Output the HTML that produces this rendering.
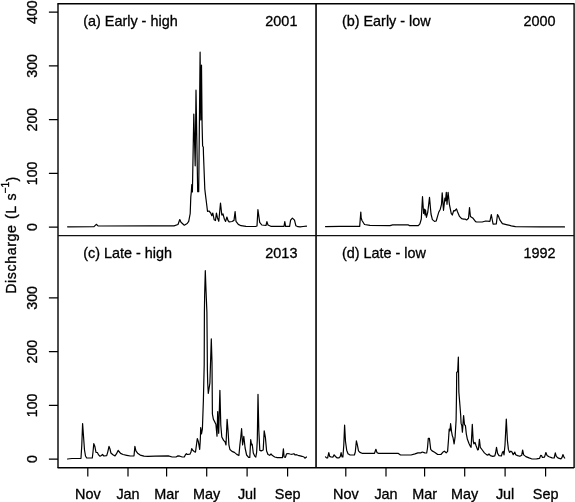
<!DOCTYPE html>
<html><head><meta charset="utf-8"><title>Discharge</title>
<style>
html,body{margin:0;padding:0;background:#fff;}
svg{display:block}
text{font-family:"Liberation Sans",Arial,sans-serif;font-size:14.2px;fill:#000;stroke:#000;stroke-width:0.3px}
</style></head><body>
<svg width="575" height="502" viewBox="0 0 575 502">
<rect width="575" height="502" fill="#fff"/>
<g fill="none" stroke="#000" stroke-width="1.2" stroke-linejoin="round" stroke-linecap="round">
<polyline points="67.6,226.8 94,226.6 96.3,224.3 98,225.9 100,226.0 150,225.9 174,225.9 178,224.5 179.8,219.5 181,222.3 184.3,225.2 187.2,223.5 188.7,221.3 190.2,213.5 190.8,197 191.3,192 191.8,184.5 192.4,192 193.8,114.1 195.2,165.8 196,90.2 197.7,191.7 198.7,191.7 200.1,52.2 200.8,120 201.5,65 202.1,125 202.6,146 203.3,147 203.5,155 204.8,189 205.3,193.4 206,199 207.5,211.3 209,211 210.8,213.2 211.8,215.7 212.8,213 214.2,219.8 215.5,220.5 216.4,213 217.5,218 218.8,221.3 220.5,203 221.8,215 223,214 224.4,219.2 225.6,221.4 226.9,217 228,220.5 229.3,222 232,221.5 234,220.4 235.1,211.6 236,221.3 238.3,224.4 241,225.7 246,226.4 255.5,226.5 257,226 257.9,209.7 259.7,222.3 261.8,225 266,225.5 266.9,221.6 268,225 270.8,226.3 284,226.3 284.8,221.6 285.6,226.3 289.6,226.3 290.6,220.2 292.4,218.1 294.5,220.2 295.9,225.8 298,226.7 300,226.9 303,226.5 306.5,226.2"/>
<polyline points="325.5,226.6 340,226.4 359.7,226.4 360.8,212 361.2,218 362,220.5 364.5,224.5 370,225.4 390,225.6 392.7,224.8 408,224.8 409.5,225.6 418.3,225.6 419.9,223.8 421.3,219 422.5,196.7 423.6,213.4 424.4,209.2 425,215 425.5,209.9 426.4,217.3 427.8,212 429.5,197.4 431,214 432.4,219.6 434.5,221.4 436.2,221 437.6,216.2 438.7,212.3 440.3,209.2 441.5,204.3 442.2,192.9 443.5,210.3 444.9,198 445.5,201 446.3,192.3 447,204.3 448.1,192.3 449.4,204.3 451.2,213.4 452.3,215 453.7,210.6 454.7,211 456.5,208.9 457.5,211.7 459.5,216.4 461.6,218.7 463.7,219.2 465,219 466.6,220 468.5,218.3 469.5,207.5 470.4,216.4 472.7,217.9 475.6,221.6 476.7,222 482.2,222 485.7,221 489.9,221.4 491.3,214.5 492.3,220 493.1,224.1 496.3,223.9 497.5,214.5 498.5,216.2 500,220.2 502.4,223.7 507.3,224.8 511.3,225.8 515.5,226.7 540,226.8 564.5,226.9"/>
<polyline points="67.5,459 72,458.5 81,458.3 81.8,445 82.6,423.5 83.6,437.5 84.5,450 85.5,456 86.7,458 92.3,458 93,452 93.8,443.6 94.8,446.2 96,452.4 97.4,452.5 98.6,454.9 100,456.2 101.5,455.5 102.5,454.5 103.9,456 106.7,455.6 107.8,451.8 109,446.4 110,449 110.9,453 112.9,454.8 115,455.9 116.4,453.9 118.1,450.4 119,451.5 120.6,453.4 123.1,454.5 126.8,455.3 130.3,456 134,455.8 134.9,446.3 135.9,450.8 137.6,453.2 140.2,455.1 144,456.2 148,456.4 155,456.2 168.3,455.9 172.2,457 176,457 178,455.9 180,456.2 182.2,457 184.3,457 185.3,455 186.4,453.7 187.5,454.5 189.9,454.2 191,452 191.7,448.6 193,450.6 194.5,451.7 195.5,452.1 196.3,446 197.3,438.5 198.3,441.4 199.7,449.3 200.3,440 200.7,427.5 201.5,434 202.4,428.8 203.4,400 204.2,365 204.4,312 204.65,295 205.3,270.7 206.0,290 206.9,312 207.2,345 207.4,370 207.7,383 208.3,393.5 209.9,383 211.3,338.9 212,362 212.4,414 213.4,419.3 215,422.4 215.9,424.3 217,436.2 217.7,411.5 218.7,433.3 219.9,390.3 220.8,425 221.8,437 223.6,440.4 225,441.7 226,445 227.1,419.3 228,430 228.9,444.8 229.9,449.5 232,451.4 234.4,452.4 236.8,454.4 238.9,455.5 239.9,444.8 240.7,438 241.6,428.7 242.6,445 243.8,436.4 245.1,448 246.6,455 248.6,457.3 249.8,457.4 250.7,439.7 251.6,445 252.2,444.2 253.3,453 254.7,456.1 255.8,457 256.6,452.7 257.3,440 258,394.3 258.8,430 259.8,450.4 261.2,450.9 263.2,450 264.2,430.9 265.4,437.4 266.6,451 268,454.5 269.7,455.3 271,454 272.5,455.6 274.7,457 277.3,457.6 282.4,457.7 283.4,448.9 284.1,457 285.4,457.3 286.6,453.8 288,453.5 290,454 292,454.3 293.9,453.7 295.1,455 296.5,454.7 298,455.3 300.2,455.8 302,456.3 304,457 304.9,458.2 306.5,457"/>
<polyline points="325.5,456.9 326.5,457.9 327.6,458 328.8,452.6 329.7,456.4 331,457 333,457.1 334.1,454.8 335.5,456.5 336.9,457.8 339,457.8 340.3,456.5 341.1,452.6 342,456.8 342.9,457 343.8,445 344.6,425.1 345.5,441.5 346.7,450.2 348,453.8 350.1,455 354.4,455 355.3,452 356.4,440.8 357.4,445.2 358.5,450.9 359.9,452.4 362,453.3 374.5,453.3 375.9,449.3 377,452.6 378.3,453.3 398,453.3 400.5,455 411,455 415,453.9 417.9,452.9 421,452.8 422.3,452 424.8,452.9 426.7,453 427.5,448 428.3,438.3 429.4,438.4 430.7,449.3 432.1,450.9 434.6,452.2 437.7,454.5 440.9,454.5 443,452.1 444.4,451.2 446.2,452.8 447.6,451.4 448.5,439.7 449.2,429 450,431 450.6,423.7 451.6,431.9 452.3,435.6 453,437.5 454.1,443.9 455.1,436.9 456.1,420 456.5,395 456.7,372.5 457.7,371.5 458.35,357 458.6,375 458.85,392 459.9,405 460.7,415.5 461.1,423.4 461.8,425.5 462.4,432.2 463.6,415.6 464.5,424.8 465.4,425.4 466.3,433.8 467.4,439.3 469.1,443.7 470.3,446.2 471.1,447.3 472.3,424.4 473.2,441 473.9,443.8 475,442.4 476,445.5 477.7,450 478.4,449.5 479.4,439.4 480.3,447.3 482.3,450 484.4,452.9 486.5,454.6 487.9,455.2 489,454 490.4,455.6 492.8,456.3 494.8,455.9 495.6,453 496.5,447.4 497.6,453.4 499,455.6 501.4,456 502.5,452.1 503.3,451.4 504,454.9 505,445 506.3,419 507.4,440.5 508.4,449.4 509.5,452.4 510.9,451.2 512,452 513.2,454.7 514.8,452.1 515.7,454.7 517.6,455.6 519.9,456.3 521.7,455.3 522.6,450 523.7,454.9 525.9,456.6 529,457.9 531.5,458.8 534,459 536.6,458.8 539.6,458.3 540.7,455.4 541.5,455.5 542.4,457.4 544.5,457.1 545.9,452.5 547,455.4 549.1,456.8 552.1,457.9 554.2,458 555.3,452.9 556.3,456.4 558.4,458.2 560.9,458.8 562,457.5 562.9,454.6 564,457.1 564.7,458"/>
</g>
<g fill="none" stroke="#111" stroke-linecap="butt">
<path stroke-width="1.5" d="M58.0,3.3000000000000003V468.09999999999997"/>
<path stroke-width="1.7" d="M316.05,3.7V467.7"/>
<path stroke-width="1.75" stroke="#333" d="M574.125,3.3000000000000003V468.09999999999997"/>
<path stroke="#000" stroke-width="1.4" d="M57.6,3.7H574.1M57.6,467.7H574.1"/>
<path stroke="#111" stroke-width="1.3" d="M58.0,235.7H574.1"/>
</g>
<g fill="none" stroke="#000" stroke-width="1.2" stroke-linecap="butt">
<path d="M48.9,227.15H58.0M48.9,173.40H58.0M48.9,119.65H58.0M48.9,65.90H58.0M48.9,12.15H58.0M48.9,459.15H58.0M48.9,405.40H58.0M48.9,351.65H58.0M48.9,297.90H58.0M87.8,467.7V476.5M345.8,467.7V476.5M128.0,467.7V476.5M386.0,467.7V476.5M166.6,467.7V476.5M424.6,467.7V476.5M206.7,467.7V476.5M464.7,467.7V476.5M247.1,467.7V476.5M505.1,467.7V476.5M287.6,467.7V476.5M545.6,467.7V476.5"/>
</g>
<text transform="translate(37.4,227.15) rotate(-90) scale(1,1.07)" text-anchor="middle">0</text>
<text transform="translate(37.4,173.4) rotate(-90) scale(1,1.07)" text-anchor="middle">100</text>
<text transform="translate(37.4,119.65) rotate(-90) scale(1,1.07)" text-anchor="middle">200</text>
<text transform="translate(37.4,65.9) rotate(-90) scale(1,1.07)" text-anchor="middle">300</text>
<text transform="translate(37.4,12.15) rotate(-90) scale(1,1.07)" text-anchor="middle">400</text>
<text transform="translate(37.4,459.15) rotate(-90) scale(1,1.07)" text-anchor="middle">0</text>
<text transform="translate(37.4,405.4) rotate(-90) scale(1,1.07)" text-anchor="middle">100</text>
<text transform="translate(37.4,351.65) rotate(-90) scale(1,1.07)" text-anchor="middle">200</text>
<text transform="translate(37.4,297.9) rotate(-90) scale(1,1.07)" text-anchor="middle">300</text>
<text transform="translate(87.8,498.8) scale(1.015,1)" text-anchor="middle">Nov</text>
<text transform="translate(345.8,498.8) scale(1.015,1)" text-anchor="middle">Nov</text>
<text transform="translate(128.0,498.8) scale(1.015,1)" text-anchor="middle">Jan</text>
<text transform="translate(386.0,498.8) scale(1.015,1)" text-anchor="middle">Jan</text>
<text transform="translate(166.6,498.8) scale(1.015,1)" text-anchor="middle">Mar</text>
<text transform="translate(424.6,498.8) scale(1.015,1)" text-anchor="middle">Mar</text>
<text transform="translate(206.7,498.8) scale(1.015,1)" text-anchor="middle">May</text>
<text transform="translate(464.7,498.8) scale(1.015,1)" text-anchor="middle">May</text>
<text transform="translate(247.1,498.8) scale(1.015,1)" text-anchor="middle">Jul</text>
<text transform="translate(505.1,498.8) scale(1.015,1)" text-anchor="middle">Jul</text>
<text transform="translate(287.6,498.8) scale(1.015,1)" text-anchor="middle">Sep</text>
<text transform="translate(545.6,498.8) scale(1.015,1)" text-anchor="middle">Sep</text>
<text transform="translate(16.4,293.8) rotate(-90) scale(1,1.07)" text-anchor="start" letter-spacing="0.62" word-spacing="0.7">Discharge (L s</text>
<text transform="translate(9.3,193.6) rotate(-90) scale(1,1.07)" text-anchor="start" style="font-size:10.3px">−1</text>
<text transform="translate(16.8,181.6) rotate(-90) scale(1,1.07)" text-anchor="start">)</text>
<text transform="translate(83.2,25.7) scale(1.015,1)" text-anchor="start">(a) Early - high</text>
<text transform="translate(297.4,25.7) scale(1.015,1)" text-anchor="end">2001</text>
<text transform="translate(341.9,25.7) scale(1.015,1)" text-anchor="start">(b) Early - low</text>
<text transform="translate(555.6,25.7) scale(1.015,1)" text-anchor="end">2000</text>
<text transform="translate(83.2,258.0) scale(1.015,1)" text-anchor="start">(c) Late - high</text>
<text transform="translate(297.4,258.0) scale(1.015,1)" text-anchor="end">2013</text>
<text transform="translate(341.9,258.0) scale(1.015,1)" text-anchor="start">(d) Late - low</text>
<text transform="translate(555.6,258.0) scale(1.015,1)" text-anchor="end">1992</text>
</svg></body></html>
